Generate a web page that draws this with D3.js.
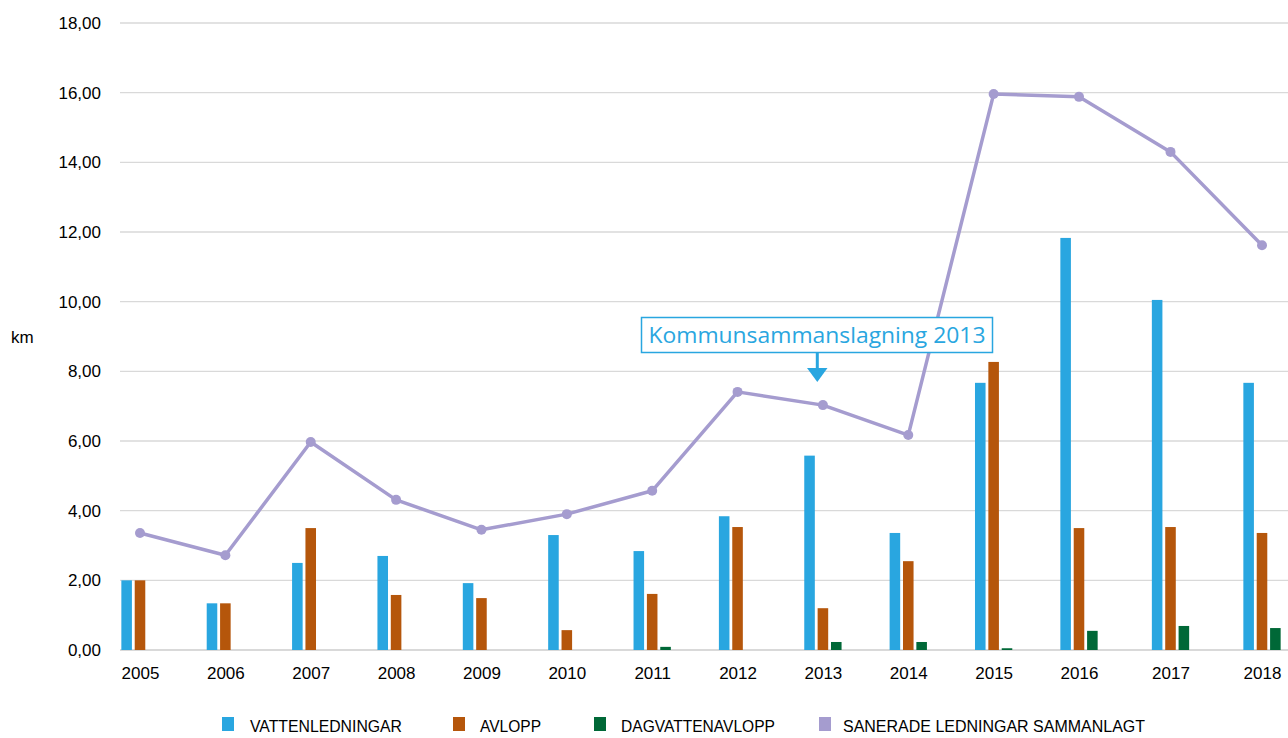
<!DOCTYPE html>
<html>
<head>
<meta charset="utf-8">
<script src="https://cdn.jsdelivr.net/npm/d3@7"></script>
<style>
  html, body { margin: 0; padding: 0; background: #fff; }
  svg { display: block; font-family: "Liberation Sans", Arial, sans-serif; }
</style>
</head>
<body>
<svg id="chart" width="1288" height="738"></svg>
<script>
const years = ["2005","2006","2007","2008","2009","2010","2011","2012","2013","2014","2015","2016","2017","2018"];
const vattenledningar = [2.00, 1.34, 2.50, 2.70, 1.92, 3.30, 2.84, 3.84, 5.58, 3.36, 7.67, 11.83, 10.05, 7.67];
const avlopp = [2.00, 1.34, 3.50, 1.58, 1.49, 0.57, 1.61, 3.53, 1.20, 2.55, 8.27, 3.50, 3.53, 3.36];
const dagvattenavlopp = [0, 0, 0, 0, 0, 0, 0.09, 0, 0.23, 0.23, 0.05, 0.55, 0.69, 0.63];
const sanerade = [3.36, 2.72, 5.97, 4.31, 3.45, 3.90, 4.57, 7.41, 7.03, 6.17, 15.96, 15.88, 14.30, 11.62];
const yTicks = [0, 2, 4, 6, 8, 10, 12, 14, 16, 18];
const seriesNames = ["VATTENLEDNINGAR", "AVLOPP", "DAGVATTENAVLOPP", "SANERADE LEDNINGAR SAMMANLAGT"];
const annotationText = "Kommunsammanslagning 2013";
const annotationYear = "2013";

const colors = ["#29a6e0", "#b5560b", "#006837", "#a59ccf"];
const svg = d3.select("#chart");

const locale = d3.formatLocale({decimal: ",", thousands: " ", grouping: [3], currency: ["", " kr"]});
const fmt = locale.format(".2f");

// piecewise linear year scale (the source chart is slightly wider between its last categories)
const xl = d3.scaleLinear().domain([2005, 2016, 2018]).range([140, 1079, 1262]);
const x = yr => xl(+yr);
const y = d3.scaleLinear().domain([0, 18]).range([650, 23]);
const xSub = d3.scaleBand().domain([0, 1, 2]).range([-18.65, 18.65]).paddingInner(0.21);

// gridlines
svg.append("g")
  .selectAll("line")
  .data(yTicks)
  .join("line")
  .attr("x1", 120).attr("x2", 1288)
  .attr("y1", d => y(d)).attr("y2", d => y(d))
  .attr("stroke", "#d9d9d9")
  .attr("stroke-width", d => d === 0 ? 2 : 1.3);

// y axis labels
const yAxis = d3.axisLeft(y).tickValues(yTicks).tickFormat(fmt).tickSize(0).tickPadding(0);
svg.append("g")
  .attr("transform", "translate(101,0)")
  .call(yAxis)
  .call(g => g.select(".domain").remove())
  .call(g => g.selectAll("text").attr("font-size", 17).attr("fill", "#000").attr("font-family", "'Liberation Sans', Arial, sans-serif"));

// x axis labels
const xAxis = d3.axisBottom(xl).tickValues(years.map(Number)).tickFormat(d3.format("d")).tickSize(0).tickPadding(0);
svg.append("g")
  .attr("transform", "translate(0,667)")
  .call(xAxis)
  .call(g => g.select(".domain").remove())
  .call(g => g.selectAll("text").attr("font-size", 17).attr("fill", "#000").attr("font-family", "'Liberation Sans', Arial, sans-serif"));

// km label
svg.append("text").attr("x", 11).attr("y", 343).attr("font-size", 17).attr("fill", "#000").text("km");

// bars
const barSeries = [vattenledningar, avlopp, dagvattenavlopp];
barSeries.forEach((vals, si) => {
  svg.append("g")
    .selectAll("rect")
    .data(vals.map((v, i) => ({year: years[i], v})))
    .join("rect")
    .attr("x", d => x(d.year) + xSub(si))
    .attr("width", xSub.bandwidth())
    .attr("y", d => y(d.v))
    .attr("height", d => y(0) - y(d.v))
    .attr("fill", colors[si]);
});

// line
const lineData = sanerade.map((v, i) => ({year: years[i], v}));
const line = d3.line().x(d => x(d.year)).y(d => y(d.v));
svg.append("path")
  .datum(lineData)
  .attr("d", line)
  .attr("fill", "none")
  .attr("stroke", colors[3])
  .attr("stroke-width", 3.5)
  .attr("stroke-linejoin", "round");
svg.append("g")
  .selectAll("circle")
  .data(lineData)
  .join("circle")
  .attr("cx", d => x(d.year))
  .attr("cy", d => y(d.v))
  .attr("r", 5)
  .attr("fill", colors[3]);

// annotation
const ann = svg.append("g");
ann.append("rect")
  .attr("x", 641.5).attr("y", 317.5).attr("width", 351).attr("height", 35)
  .attr("fill", "#fff").attr("stroke", colors[0]).attr("stroke-width", 1.5);
ann.append("text")
  .attr("x", 817).attr("y", 343)
  .attr("text-anchor", "middle")
  .attr("font-family", "'Open Sans', 'Liberation Sans', sans-serif")
  .attr("font-size", 22)
  .attr("fill", colors[0])
  .attr("textLength", 337)
  .attr("lengthAdjust", "spacingAndGlyphs")
  .text(annotationText);
ann.append("line")
  .attr("x1", 817.3).attr("x2", 817.3).attr("y1", 353).attr("y2", 369)
  .attr("stroke", colors[0]).attr("stroke-width", 3);
ann.append("path")
  .attr("d", "M807,368 L827.5,368 L817.3,382 Z")
  .attr("fill", colors[0]);

// legend
const legendItems = [
  {sq: 222, tx: 250, w: 152},
  {sq: 453, tx: 480, w: 61},
  {sq: 594, tx: 621, w: 154},
  {sq: 819, tx: 843, w: 302}
];
const lg = svg.append("g");
legendItems.forEach((it, i) => {
  lg.append("rect").attr("x", it.sq).attr("y", 717).attr("width", 12).attr("height", 14).attr("fill", colors[i]);
  lg.append("text").attr("x", it.tx).attr("y", 732)
    .attr("font-size", 16).attr("fill", "#000")
    .attr("textLength", it.w).attr("lengthAdjust", "spacingAndGlyphs")
    .text(seriesNames[i]);
});
</script>
</body>
</html>
